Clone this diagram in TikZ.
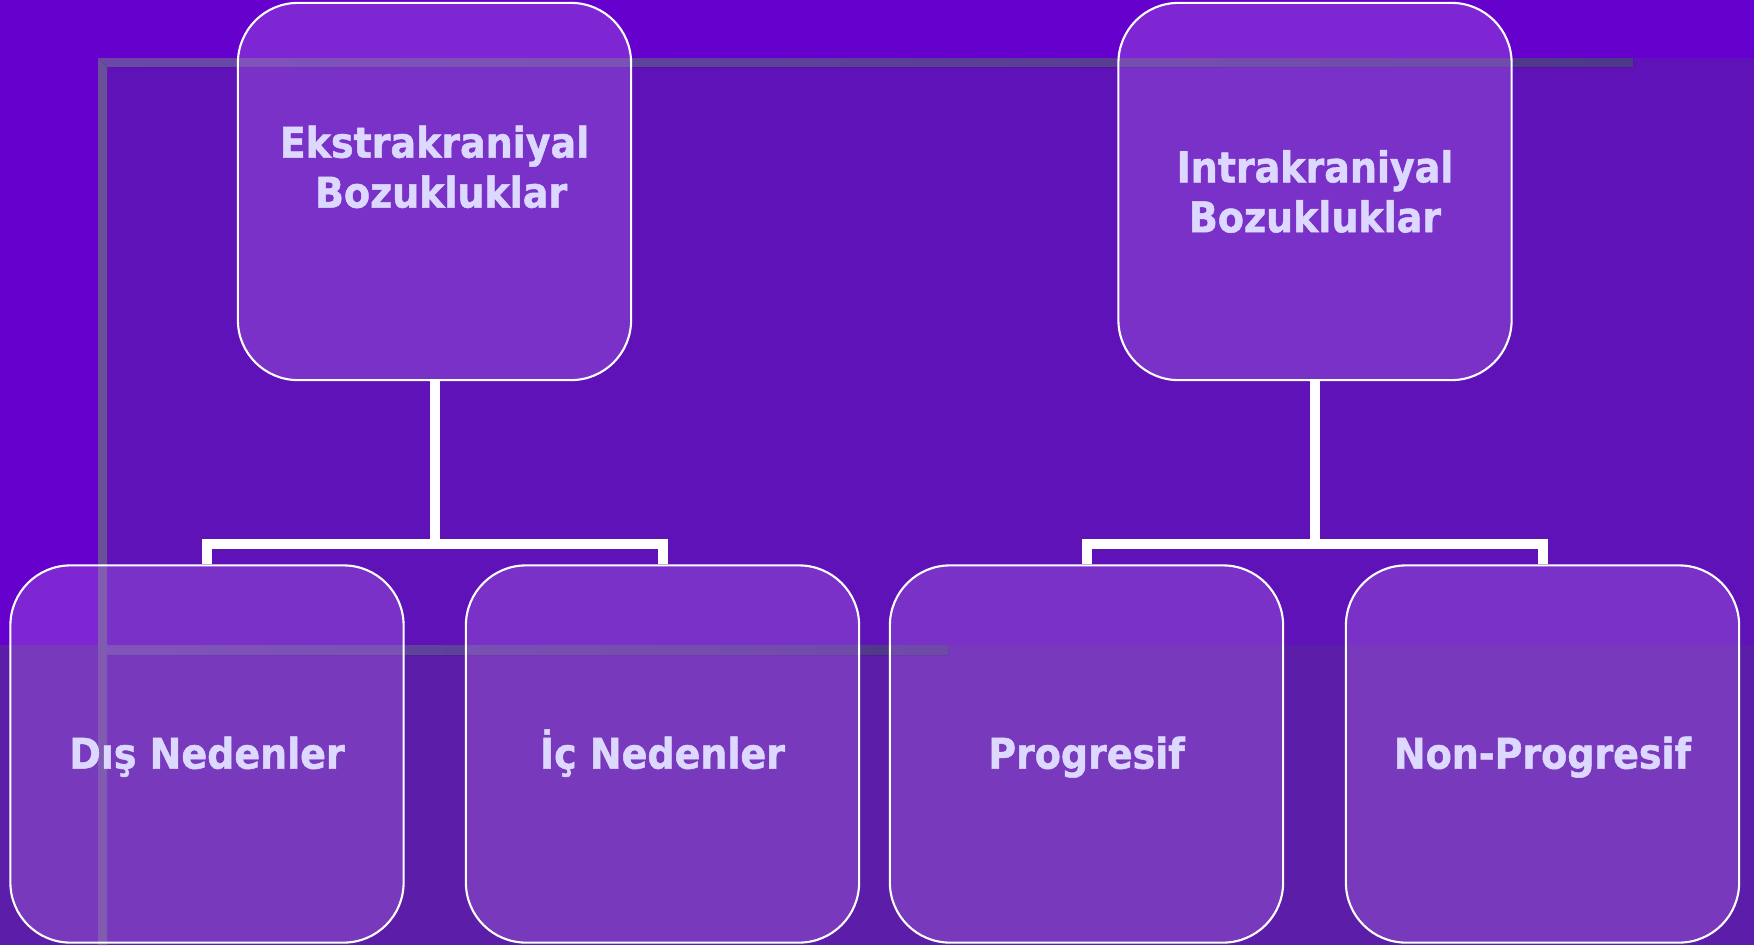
\documentclass[tikz,border=0pt]{standalone}
\usepackage{fontspec}
\usepackage{xcolor}
\usepackage{tikz}
\usetikzlibrary{positioning,calc}
\newfontfamily\boxfont[FakeStretch=0.9,FakeBold=1.2]{DejaVu Sans Bold}
\definecolor{bandpurple}{HTML}{6600CC}
\definecolor{panelpurple}{HTML}{5E12B8}
\definecolor{lowpurple}{HTML}{5C1EA8}
\definecolor{bevelgray}{HTML}{6A5098}
\definecolor{barlight}{HTML}{6A48A8}
\definecolor{bardark}{HTML}{4E3888}
\definecolor{boxfill}{RGB}{173,109,227}
\definecolor{textlav}{HTML}{DCD8FF}

\begin{document}
\begin{tikzpicture}[x=0.01cm, y=-0.01cm,
	catbox/.style={draw=white, line width=0.6pt, fill=boxfill, fill opacity=0.35, text opacity=1,
		rounded corners=0.6cm, minimum width=3.93cm, minimum height=3.77cm, inner sep=0,
		align=center, text=textlav, font=\boxfont\fontsize{12}{14.2}\selectfont},
	subbox/.style={catbox, text height=0.83em, text depth=0pt},
	conn/.style={white, line width=0.1cm}]
	\useasboundingbox[fill=bandpurple] (0,0) rectangle (1754,945);
	\fill[panelpurple] (98,58) rectangle (1754,945);
	\fill[lowpurple] (0,645) rectangle (1754,945);
	\fill[left color=barlight, right color=bardark] (98,58) -- (1633,58) -- (1633,67) -- (107,67) -- cycle;
	\fill[left color=barlight, right color=bardark] (98,645) -- (948,645) -- (948,655) -- (107,655) -- cycle;
	\fill[bevelgray] (98,58) -- (107,67) -- (107,945) -- (98,945) -- cycle;

	\node[catbox] (ext) at (434.5,191.5) {Ekstrakraniyal\\\ Bozukluklar\\\vphantom{B}};
	\node[catbox] (intra) at (1315,191.5) {Intrakraniyal\\Bozukluklar};
	\node[subbox] (dis) at (207,754) {Dış Nedenler};
	\node[subbox] (ic) at (662.5,754) {İç Nedenler};
	\node[subbox] (prog) at (1086.5,754) {Progresif};
	\node[subbox] (nonprog) at (1542.5,754) {Non-Progresif};

	\draw[conn] (ext.south) -- ++(0,163) coordinate (extbar);
	\draw[conn] (dis.north) |- (extbar) -| (ic.north);
	\draw[conn] (intra.south) -- ++(0,163) coordinate (intrabar);
	\draw[conn] (prog.north) |- (intrabar) -| (nonprog.north);
\end{tikzpicture}
\end{document}
